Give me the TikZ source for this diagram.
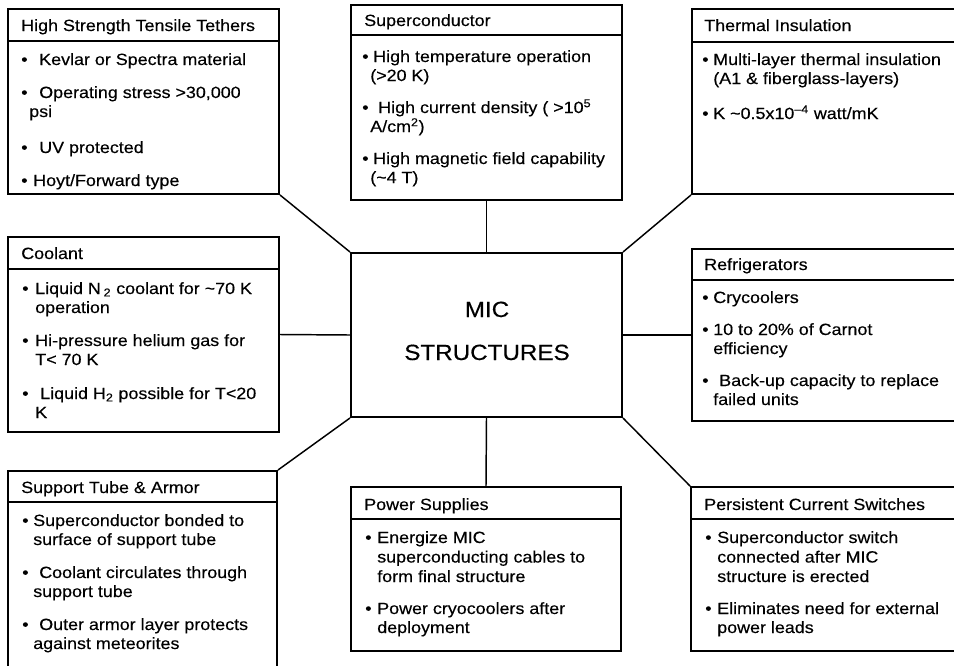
\documentclass[tikz,border=0pt]{standalone}
\usepackage{fontspec}
\setmainfont{Liberation Sans}[FakeStretch=1.1, FakeBold=0.3]
\usetikzlibrary{fit}

% running counter used to give every text line its own node name
\newcounter{lnc}
% plain line of text: x, baseline y, text
\newcommand\boxtext[3]{\stepcounter{lnc}\node[lineText] (ln\arabic{lnc}) at (#1,#2) {#3};}
% bulleted line: bullet x, text x, baseline y, text
\newcommand\boxbullet[4]{\stepcounter{lnc}%
  \node[lineText] (bu\arabic{lnc}) at (#1,#3) {\textbullet};%
  \node[lineText] (ln\arabic{lnc}) at (#2,#3) {#4};}

\begin{document}
\begin{tikzpicture}[x=0.75pt,y=-0.75pt,
  panel/.style={draw, line width=1.5pt, inner sep=0pt},
  divider/.style={line width=1.5pt},
  link/.style={line width=1.1pt},
  lineText/.style={anchor=base west, inner sep=0pt, font=\fontsize{12.2}{14}\selectfont},
  bigText/.style={anchor=base, inner sep=0pt, font=\fontsize{16.5}{20}\selectfont}]

\useasboundingbox (0,0) rectangle (954,665);
\clip (0,0) rectangle (954,665);
\fill[white] (0,0) rectangle (954,665);

% ---------- boxes ----------
\node[panel, fit={(351,253) (622,417)}] (mic) {};
\node[panel, fit={(8,9) (279,194)}] (tethers) {};
\node[panel, fit={(351,5) (622,200)}] (supercond) {};
\node[panel, fit={(692,9) (975,194)}] (thermal) {};
\node[panel, fit={(8,237) (279,432)}] (coolant) {};
\node[panel, fit={(692,249) (975,421)}] (refrig) {};
\node[panel, fit={(8,471) (277,690)}] (support) {};
\node[panel, fit={(351,487) (621,651)}] (power) {};
\node[panel, fit={(691,487) (975,651)}] (persist) {};

% header dividers
\draw[divider] (tethers.west |- 0,41) -- (tethers.east |- 0,41);
\draw[divider] (supercond.west |- 0,35) -- (supercond.east |- 0,35);
\draw[divider] (thermal.west |- 0,42) -- (thermal.east |- 0,42);
\draw[divider] (coolant.west |- 0,269) -- (coolant.east |- 0,269);
\draw[divider] (refrig.west |- 0,280) -- (refrig.east |- 0,280);
\draw[divider] (support.west |- 0,502) -- (support.east |- 0,502);
\draw[divider] (power.west |- 0,519) -- (power.east |- 0,519);
\draw[divider] (persist.west |- 0,519) -- (persist.east |- 0,519);

% ---------- connectors ----------
\draw[link] (tethers.south east) -- (mic.north west);
\draw[link] (supercond.south) -- (mic.north);
\draw[link] (thermal.south west) -- (mic.north east);
\draw[link] (coolant.east) -- (mic.west);
\draw[link] (mic.east) -- (refrig.west);
\draw[link] (support.north east) -- (mic.south west);
\draw[link] (mic.south) -- (power.north);
\draw[link] (persist.north west) -- (mic.south east);

% ---------- centre ----------
\node[bigText] (micA) at (487,317) {MIC};
\node[bigText] (micB) at (487,360) {STRUCTURES};

% ---------- High Strength Tensile Tethers ----------
\boxtext{21}{31}{High Strength Tensile Tethers}
\boxbullet{21}{39}{65}{Kevlar or Spectra material}
\boxbullet{21}{39}{98}{Operating stress >30,000}
\boxtext{29}{117}{psi}
\boxbullet{21}{39}{153}{UV protected}
\boxbullet{21}{33}{186}{Hoyt/Forward type}

% ---------- Superconductor ----------
\boxtext{364}{26}{Superconductor}
\boxbullet{362}{373}{62}{High temperature operation}
\boxtext{370}{81}{(>20 K)}
\boxbullet{362}{378}{113}{High current density ( >10\textsuperscript{5}}
\boxtext{370}{132}{A/cm\textsuperscript{2})}
\boxbullet{362}{373}{164}{High magnetic field capability}
\boxtext{370}{183}{(\textasciitilde4 T)}

% ---------- Thermal Insulation ----------
\boxtext{704}{31}{Thermal Insulation}
\boxbullet{702}{713}{65}{Multi-layer thermal insulation}
\boxtext{713}{84}{(A1 \& fiberglass-layers)}
\boxbullet{702}{713}{119}{K \textasciitilde0.5x10\textsuperscript{--4} watt/mK}

% ---------- Coolant ----------
\boxtext{21}{259}{Coolant}
\boxbullet{22}{35}{294}{Liquid N\,\textsubscript{2} coolant for \textasciitilde70 K}
\boxtext{35}{313}{operation}
\boxbullet{22}{35}{346}{Hi-pressure helium gas for}
\boxtext{35}{365}{T< 70 K}
\boxbullet{22}{40}{399}{Liquid H\textsubscript{2} possible for T<20}
\boxtext{35}{418}{K}

% ---------- Refrigerators ----------
\boxtext{704}{270}{Refrigerators}
\boxbullet{702}{713}{303}{Crycoolers}
\boxbullet{702}{713}{335}{10 to 20\% of Carnot}
\boxtext{713}{354}{efficiency}
\boxbullet{702}{719}{386}{Back-up capacity to replace}
\boxtext{713}{405}{failed units}

% ---------- Support Tube & Armor ----------
\boxtext{21}{493}{Support Tube \& Armor}
\boxbullet{22}{33}{526}{Superconductor bonded to}
\boxtext{33}{545}{surface of support tube}
\boxbullet{22}{39}{578}{Coolant circulates through}
\boxtext{33}{597}{support tube}
\boxbullet{22}{39}{630}{Outer armor layer protects}
\boxtext{33}{649}{against meteorites}

% ---------- Power Supplies ----------
\boxtext{364}{510}{Power Supplies}
\boxbullet{365}{377}{543}{Energize MIC}
\boxtext{377}{562.5}{superconducting cables to}
\boxtext{377}{582}{form final structure}
\boxbullet{365}{377}{614}{Power cryocoolers after}
\boxtext{377}{633}{deployment}

% ---------- Persistent Current Switches ----------
\boxtext{704}{510}{Persistent Current Switches}
\boxbullet{705}{717}{543}{Superconductor switch}
\boxtext{717}{562.5}{connected after MIC}
\boxtext{717}{582}{structure is erected}
\boxbullet{705}{717}{614}{Eliminates need for external}
\boxtext{717}{633}{power leads}

\end{tikzpicture}
\end{document}
